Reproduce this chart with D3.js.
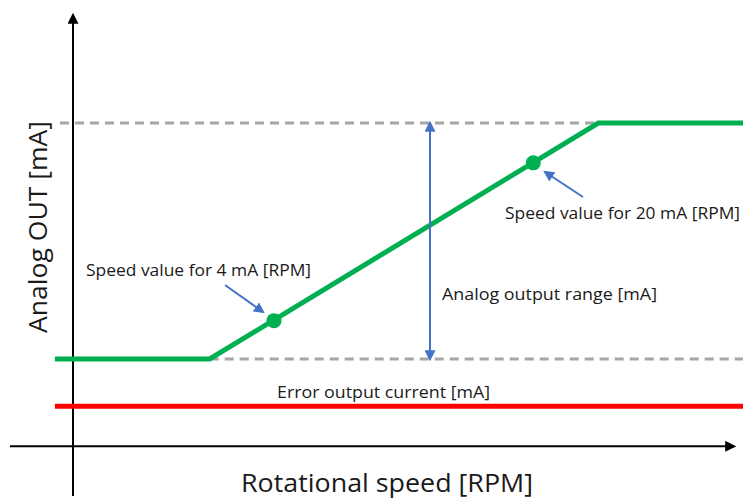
<!DOCTYPE html>
<html>
<head>
<meta charset="utf-8">
<script src="https://cdn.jsdelivr.net/npm/d3@7"></script>
<style>
	body { margin: 0; background: #fff; }
	text { font-family: "Open Sans", "Liberation Sans", sans-serif; fill: #1a1a1a; }
</style>
</head>
<body>
<svg id="chart" width="753" height="499"></svg>
<script>
/*	Chart data -------------------------------------------------------------*/
var speedPoints = [-27, 204, 784, 1000];        // RPM, green curve knots
var currentPoints = [4, 4, 20, 20];             // mA
var markerSpeeds = [300, 687];                  // dots on the slope
var markerCurrents = [6.6, 17.3];
var rangeLimits = [4, 20];                      // dashed lines, mA
var errorCurrent = 0.8;                         // red line, mA
var labels = ["Speed value for 4 mA [RPM]", "Speed value for 20 mA [RPM]",
	"Analog output range [mA]", "Error output current [mA]"];
var axisTitles = ["Rotational speed [RPM]", "Analog OUT [mA]"];

/*	Scales -------------------------------------------------------------------*/
var svg = d3.select("#chart");
var xScale = d3.scaleLinear().domain([0, 1000]).range([73, 743]);
var yScale = d3.scaleLinear().domain([4, 20]).range([359, 123]);
var xAxisY = yScale(-1.92);

/*	Arrow heads ------------------------------------------------------------*/
var defs = svg.append("defs");
var addMarker = function(id, color, size) {
	defs.append("marker")
		.attr("id", id)
		.attr("viewBox", "0 0 10 10")
		.attr("refX", 8).attr("refY", 5)
		.attr("markerWidth", size).attr("markerHeight", size)
		.attr("orient", "auto-start-reverse")
		.attr("markerUnits", "userSpaceOnUse")
		.append("path")
		.attr("d", "M0,0 L10,5 L0,10 z")
		.style("fill", color);
};
addMarker("arrBlack", "#000", 11);
addMarker("arrBlue", "#4472C4", 11);

/*	Axes ---------------------------------------------------------------------*/
svg.append("line")
	.attr("x1", 10).attr("x2", 734)
	.attr("y1", xAxisY).attr("y2", xAxisY)
	.style("stroke", "#000").style("stroke-width", 2)
	.attr("marker-end", "url(#arrBlack)");
svg.append("line")
	.attr("x1", xScale(0)).attr("x2", xScale(0))
	.attr("y1", 496).attr("y2", 15)
	.style("stroke", "#000").style("stroke-width", 2)
	.attr("marker-end", "url(#arrBlack)");

/*	Dashed limit lines -------------------------------------------------------*/
svg.append("line")
	.attr("x1", 60).attr("x2", xScale(784))
	.attr("y1", yScale(rangeLimits[1])).attr("y2", yScale(rangeLimits[1]))
	.style("stroke", "#a6a6a6").style("stroke-width", 3)
	.style("stroke-dasharray", "9,6");
svg.append("line")
	.attr("x1", xScale(204)).attr("x2", 743)
	.attr("y1", yScale(rangeLimits[0])).attr("y2", yScale(rangeLimits[0]))
	.style("stroke", "#a6a6a6").style("stroke-width", 3)
	.style("stroke-dasharray", "9,6");

/*	Error line -------------------------------------------------------------*/
svg.append("line")
	.attr("x1", xScale(-27)).attr("x2", xScale(1000))
	.attr("y1", yScale(errorCurrent)).attr("y2", yScale(errorCurrent))
	.style("stroke", "#ff0000").style("stroke-width", 5);

/*	Green output curve -------------------------------------------------------*/
var line = d3.line()
	.x(function(d, i) { return xScale(d); })
	.y(function(d, i) { return yScale(currentPoints[i]); });
svg.append("path")
	.attr("d", line(speedPoints))
	.style("fill", "none")
	.style("stroke", "#00b050")
	.style("stroke-width", 5)
	.style("stroke-linejoin", "miter");

svg.selectAll(".dot").data(markerSpeeds)
	.enter().append("circle")
	.attr("class", "dot")
	.attr("cx", function(d) { return xScale(d); })
	.attr("cy", function(d, i) { return yScale(markerCurrents[i]); })
	.attr("r", 7.5)
	.style("fill", "#00b050");

/*	Range double arrow -------------------------------------------------------*/
svg.append("line")
	.attr("x1", 430).attr("x2", 430)
	.attr("y1", yScale(rangeLimits[0])).attr("y2", yScale(rangeLimits[1]))
	.style("stroke", "#4472C4").style("stroke-width", 2)
	.attr("marker-start", "url(#arrBlue)")
	.attr("marker-end", "url(#arrBlue)");

/*	Callout arrows -----------------------------------------------------------*/
svg.append("line")
	.attr("x1", 225).attr("y1", 285).attr("x2", 263).attr("y2", 312)
	.style("stroke", "#4472C4").style("stroke-width", 2)
	.attr("marker-end", "url(#arrBlue)");
svg.append("line")
	.attr("x1", 583).attr("y1", 197).attr("x2", 545).attr("y2", 172)
	.style("stroke", "#4472C4").style("stroke-width", 2)
	.attr("marker-end", "url(#arrBlue)");

/*	Labels -------------------------------------------------------------------*/
var addLabel = function(txt, x, y, w) {
	svg.append("text").attr("x", x).attr("y", y)
		.attr("font-size", "17px")
		.attr("textLength", w)
		.attr("lengthAdjust", "spacingAndGlyphs")
		.text(txt);
};
addLabel(labels[0], 86, 276, 225);
addLabel(labels[1], 505, 219, 235);
addLabel(labels[2], 442, 300, 215);
addLabel(labels[3], 277, 398, 213);

svg.append("text").attr("x", 241).attr("y", 492)
	.attr("font-size", "26px").attr("textLength", 292)
	.attr("lengthAdjust", "spacingAndGlyphs").text(axisTitles[0]);
svg.append("text")
	.attr("transform", "translate(47,333)rotate(-90)")
	.attr("font-size", "26px").attr("textLength", 212)
	.attr("lengthAdjust", "spacingAndGlyphs").text(axisTitles[1]);
</script>
</body>
</html>
